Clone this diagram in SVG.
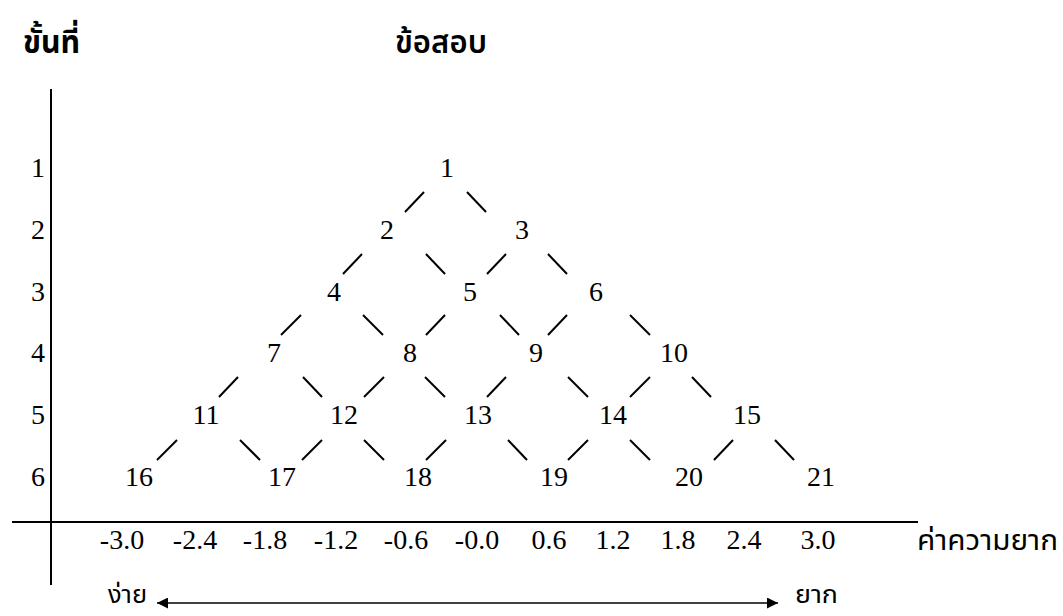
<svg xmlns="http://www.w3.org/2000/svg" width="1063" height="616" viewBox="0 0 1063 616">
<defs>
<style>
.n{font-family:"Liberation Serif","Times New Roman",serif;font-size:28px;fill:#000;text-anchor:middle}
.th{font-family:"Noto Sans Thai","Loma","Garuda","Norasi","DejaVu Sans",sans-serif;fill:#000}
.e{stroke:#000;stroke-width:2;fill:none}
.ax{stroke:#000;stroke-width:2;fill:none}
.ar{stroke:#000;stroke-width:1.6;fill:none}
</style>
<marker id="ah" viewBox="0 0 10 10" refX="10" refY="5" markerUnits="userSpaceOnUse" markerWidth="17" markerHeight="11" orient="auto-start-reverse">
<path d="M0,0 L10,5 L0,10 Z" fill="#000"/>
</marker>
</defs>
<rect width="1063" height="616" fill="#fff"/>

<g id="titles">
<text class="th" x="23" y="53" font-size="32" font-weight="bold" textLength="57" lengthAdjust="spacingAndGlyphs">ขั้นที่</text>
<text class="th" x="395" y="53" font-size="32" font-weight="600" textLength="92" lengthAdjust="spacingAndGlyphs">ข้อสอบ</text>
</g>

<g id="axes">
<line class="ax" x1="51" y1="89" x2="51" y2="585"/>
<line class="ax" x1="12" y1="522" x2="918" y2="522"/>
<text class="th" x="917" y="550" font-size="28" textLength="141" lengthAdjust="spacingAndGlyphs">ค่าความยาก</text>
</g>

<g id="row-labels">
<text class="n" x="38" y="177">1</text>
<text class="n" x="38" y="239">2</text>
<text class="n" x="38" y="301">3</text>
<text class="n" x="38" y="362">4</text>
<text class="n" x="38" y="424">5</text>
<text class="n" x="38" y="486">6</text>
</g>

<g id="scale-labels">
<text class="n" x="122" y="549">-3.0</text>
<text class="n" x="195" y="549">-2.4</text>
<text class="n" x="265" y="549">-1.8</text>
<text class="n" x="336" y="549">-1.2</text>
<text class="n" x="406" y="549">-0.6</text>
<text class="n" x="477" y="549">-0.0</text>
<text class="n" x="549" y="549">0.6</text>
<text class="n" x="613" y="549">1.2</text>
<text class="n" x="678" y="549">1.8</text>
<text class="n" x="744" y="549">2.4</text>
<text class="n" x="818" y="549">3.0</text>
</g>

<g id="node-1"><text class="n" x="447" y="177">1</text></g>
<g id="node-2"><text class="n" x="387" y="239">2</text></g>
<g id="node-3"><text class="n" x="522" y="239">3</text></g>
<g id="node-4"><text class="n" x="334" y="301">4</text></g>
<g id="node-5"><text class="n" x="470" y="301">5</text></g>
<g id="node-6"><text class="n" x="596" y="301">6</text></g>
<g id="node-7"><text class="n" x="274" y="362">7</text></g>
<g id="node-8"><text class="n" x="410" y="362">8</text></g>
<g id="node-9"><text class="n" x="536" y="362">9</text></g>
<g id="node-10"><text class="n" x="674" y="362">10</text></g>
<g id="node-11"><text class="n" x="206" y="424">11</text></g>
<g id="node-12"><text class="n" x="344" y="424">12</text></g>
<g id="node-13"><text class="n" x="478" y="424">13</text></g>
<g id="node-14"><text class="n" x="613" y="424">14</text></g>
<g id="node-15"><text class="n" x="747" y="424">15</text></g>
<g id="node-16"><text class="n" x="139" y="486">16</text></g>
<g id="node-17"><text class="n" x="282" y="486">17</text></g>
<g id="node-18"><text class="n" x="418" y="486">18</text></g>
<g id="node-19"><text class="n" x="554" y="486">19</text></g>
<g id="node-20"><text class="n" x="689" y="486">20</text></g>
<g id="node-21"><text class="n" x="821" y="486">21</text></g>

<g id="connectors">
<line class="e" x1="405" y1="212" x2="424" y2="192"/>
<line class="e" x1="467" y1="192" x2="486" y2="212"/>
<line class="e" x1="343" y1="274" x2="362" y2="254"/>
<line class="e" x1="426" y1="254" x2="445" y2="274"/>
<line class="e" x1="487" y1="274" x2="506" y2="254"/>
<line class="e" x1="548" y1="254" x2="567" y2="274"/>
<line class="e" x1="281" y1="335" x2="301" y2="315"/>
<line class="e" x1="363" y1="315" x2="383" y2="335"/>
<line class="e" x1="426" y1="335" x2="445" y2="315"/>
<line class="e" x1="500" y1="315" x2="519" y2="335"/>
<line class="e" x1="548" y1="335" x2="567" y2="315"/>
<line class="e" x1="630" y1="315" x2="650" y2="335"/>
<line class="e" x1="219" y1="397" x2="238" y2="377"/>
<line class="e" x1="303" y1="377" x2="322" y2="397"/>
<line class="e" x1="364" y1="397" x2="384" y2="377"/>
<line class="e" x1="425" y1="377" x2="445" y2="397"/>
<line class="e" x1="487" y1="397" x2="506" y2="377"/>
<line class="e" x1="568" y1="377" x2="588" y2="397"/>
<line class="e" x1="630" y1="397" x2="650" y2="377"/>
<line class="e" x1="692" y1="377" x2="711" y2="397"/>
<line class="e" x1="157" y1="460" x2="177" y2="440"/>
<line class="e" x1="240" y1="440" x2="260" y2="460"/>
<line class="e" x1="302" y1="460" x2="322" y2="440"/>
<line class="e" x1="364" y1="440" x2="384" y2="460"/>
<line class="e" x1="426" y1="460" x2="446" y2="440"/>
<line class="e" x1="508" y1="440" x2="527" y2="460"/>
<line class="e" x1="568" y1="460" x2="588" y2="440"/>
<line class="e" x1="630" y1="440" x2="650" y2="460"/>
<line class="e" x1="714" y1="460" x2="733" y2="440"/>
<line class="e" x1="775" y1="440" x2="794" y2="460"/>
</g>

<g id="difficulty-arrow">
<line class="ar" x1="157" y1="603" x2="778" y2="603" marker-start="url(#ah)" marker-end="url(#ah)"/>
<text class="th" x="108" y="603" font-size="24" textLength="39" lengthAdjust="spacingAndGlyphs">ง่าย</text>
<text class="th" x="795" y="603" font-size="24" textLength="43" lengthAdjust="spacingAndGlyphs">ยาก</text>
</g>
</svg>
